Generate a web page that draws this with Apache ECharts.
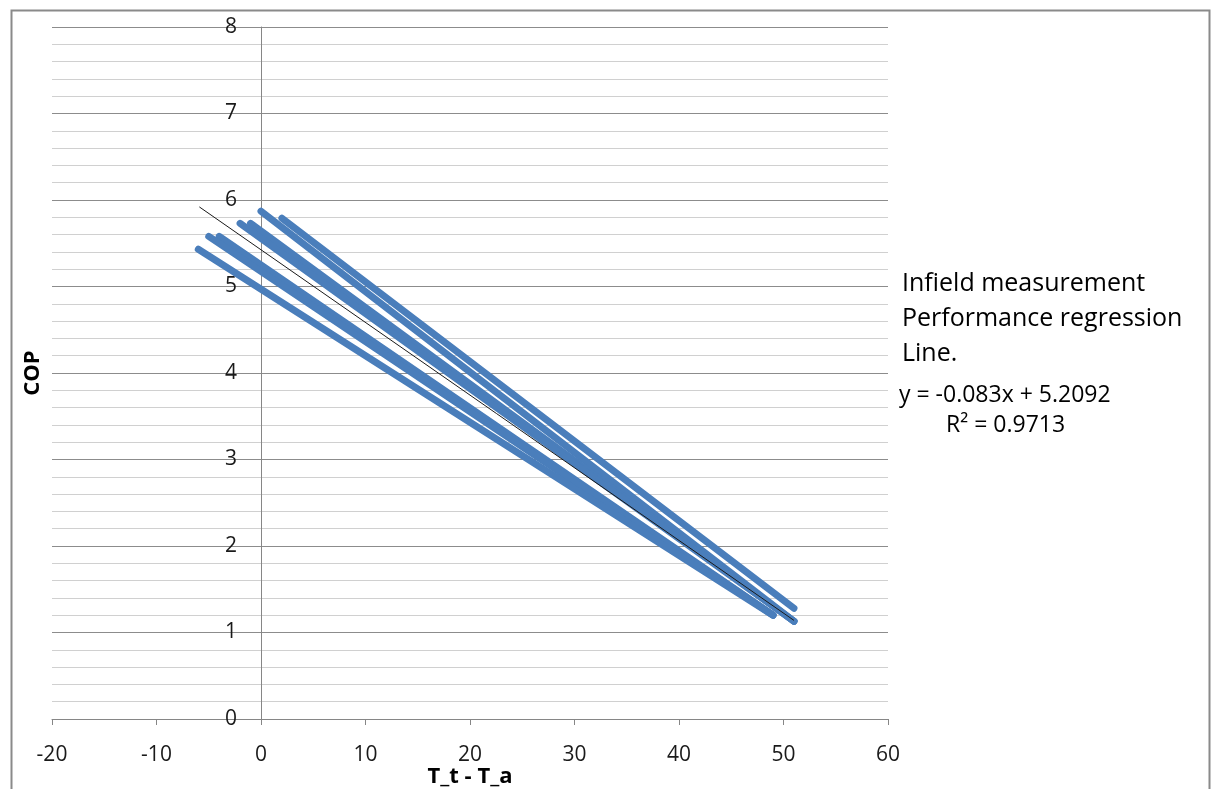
<!DOCTYPE html>
<html>
<head>
<meta charset="utf-8">
<script src="https://cdn.jsdelivr.net/npm/echarts@6/dist/echarts.min.js"></script>
<style>
html,body{margin:0;padding:0;background:#fff;}
#chart{width:1213px;height:789px;}
</style>
</head>
<body>
<div id="chart"></div>
<script>
// Data
var seriesName = 'Infield measurement Performance regression Line.';
var segStartX = [2, 0, -1, -2, -4, -5, -6];
var segStartY = [5.79, 5.87, 5.73, 5.73, 5.58, 5.58, 5.43];
var segEndX   = [51, 51, 51, 51, 49, 49, 49];
var segEndY   = [1.28, 1.13, 1.13, 1.13, 1.20, 1.20, 1.20];
var trendX = [-5.9, 51];
var trendY = [5.92, 1.14];
var equationText = 'y = -0.083x + 5.2092';
var r2Text = 'R\u00B2 = 0.9713';
var xTicks = {min: -20, max: 60, interval: 10};
var yTicks = {min: 0, max: 8, interval: 1};

var FONT = "'Open Sans', sans-serif";
var BLUE = '#4A7EBB';

var series = [];
for (var i = 0; i < segStartX.length; i++) {
  series.push({
    name: seriesName,
    type: 'line',
    data: [[segStartX[i], segStartY[i]], [segEndX[i], segEndY[i]]],
    symbol: 'none',
    silent: true,
    lineStyle: {color: BLUE, width: 7, cap: 'round', join: 'round'},
    itemStyle: {color: BLUE},
    z: 2
  });
}
series.push({
  name: 'Linear trend',
  type: 'line',
  data: [[trendX[0], trendY[0]], [trendX[1], trendY[1]]],
  symbol: 'none',
  silent: true,
  lineStyle: {color: '#1a1a1a', width: 1},
  z: 3
});

var chart = echarts.init(document.getElementById('chart'), null, {renderer: 'canvas'});
chart.setOption({
  animation: false,
  backgroundColor: '#fff',
  grid: {left: 52, right: 325, top: 27, bottom: 70, containLabel: false, outerBoundsMode: 'none'},
  legend: {
    data: [seriesName],
    orient: 'vertical',
    left: 892,
    top: 261,
    icon: 'none',
    itemWidth: 0,
    itemHeight: 10,
    selectedMode: false,
    formatter: function () { return 'Infield measurement\nPerformance regression\nLine.'; },
    textStyle: {fontFamily: FONT, fontSize: 25, color: '#000', lineHeight: 35}
  },
  xAxis: {
    type: 'value',
    min: xTicks.min, max: xTicks.max, interval: xTicks.interval,
    name: 'T_t - T_a',
    nameLocation: 'middle',
    nameGap: 47,
    nameMoveOverlap: false,
    nameTextStyle: {fontFamily: FONT, fontSize: 22, fontWeight: 'bold', color: '#000'},
    axisLine: {show: true, onZero: false, lineStyle: {color: '#868686', width: 1}},
    axisTick: {show: true, length: 6, lineStyle: {color: '#868686'}},
    axisLabel: {fontFamily: FONT, fontSize: 21, color: '#1a1a1a', margin: 26},
    splitLine: {show: false}
  },
  yAxis: {
    type: 'value',
    position: 'left',
    offset: -209,
    min: yTicks.min, max: yTicks.max, interval: yTicks.interval,
    name: 'COP',
    nameLocation: 'middle',
    nameGap: 217,
    nameTextStyle: {fontFamily: FONT, fontSize: 22, fontWeight: 'bold', color: '#000'},
    axisLine: {show: true, onZero: false, lineStyle: {color: '#868686', width: 1}},
    axisTick: {show: false},
    axisLabel: {fontFamily: FONT, fontSize: 21, color: '#1a1a1a', margin: 24},
    splitLine: {show: true, lineStyle: {color: '#8c8c8c', width: 1}},
    minorTick: {show: false, splitNumber: 5},
    minorSplitLine: {show: true, lineStyle: {color: '#d0d0d0', width: 1}}
  },
  graphic: [
    {type: 'rect', left: 9, top: 8, silent: true, z: -1,
     shape: {x: 0, y: 0, width: 1198, height: 800},
     style: {fill: null, stroke: '#8a8a8a', lineWidth: 2}},
    {type: 'text', left: 899, top: 384, silent: true,
     style: {text: equationText, fontFamily: FONT, fontSize: 23, fill: '#000'}},
    {type: 'text', left: 946, top: 414, silent: true,
     style: {text: r2Text, fontFamily: FONT, fontSize: 23, fill: '#000'}}
  ],
  series: series
});
</script>
</body>
</html>
